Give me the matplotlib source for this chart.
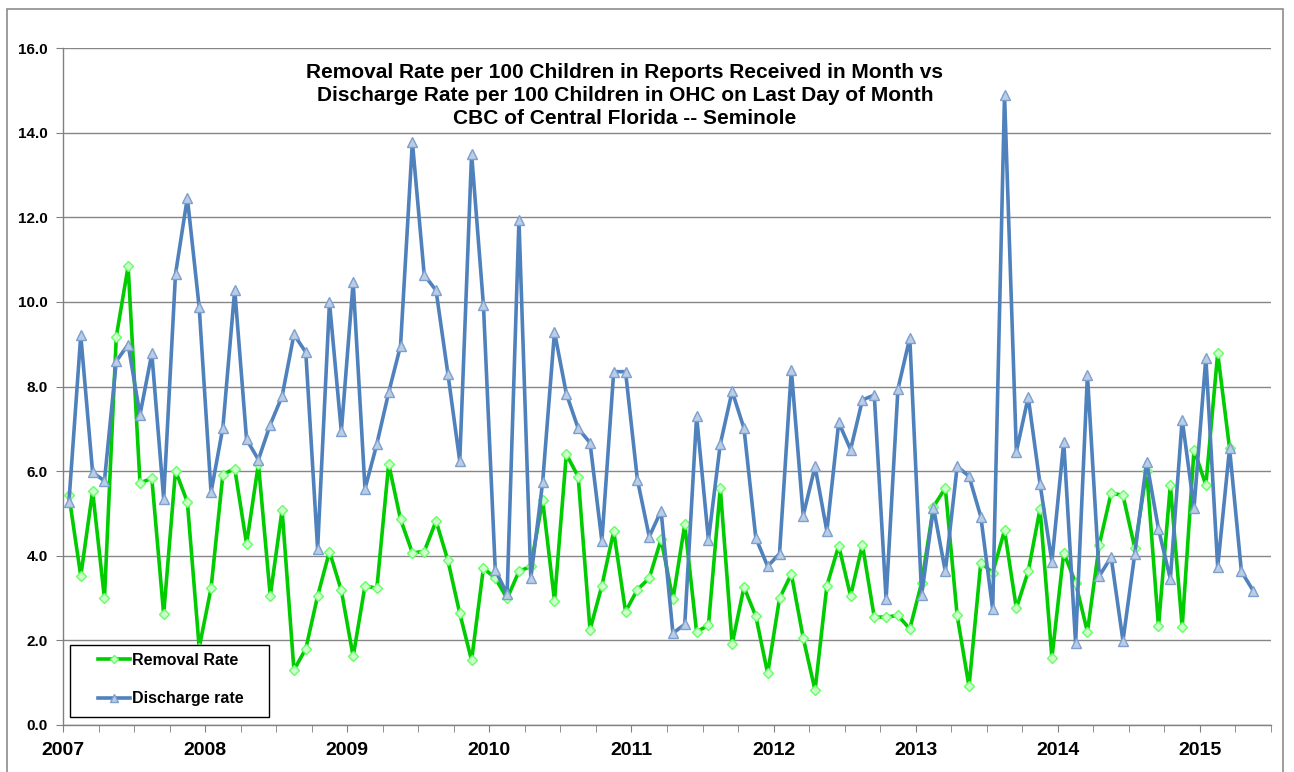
import numpy as np
import matplotlib
matplotlib.use('Agg')
import matplotlib.pyplot as plt
from matplotlib.patches import Rectangle

plt.rcParams['font.family'] = ['Liberation Sans', 'DejaVu Sans']
plt.rcParams['font.weight'] = 'bold'

# monthly values, starting Jan 2007
removal_rate = [
    5.43, 3.52, 5.53, 2.99, 9.18, 10.84, 5.72, 5.83, 2.62, 6.01, 5.27, 1.83,
    3.23, 5.92, 6.06, 4.28, 6.17, 3.05, 5.08, 1.30, 1.80, 3.05, 4.10, 3.18,
    1.62, 3.29, 3.23, 6.17, 4.86, 4.07, 4.10, 4.82, 3.89, 2.64, 1.53, 3.71,
    3.47, 2.99, 3.63, 3.75, 5.32, 2.94, 6.40, 5.87, 2.25, 3.29, 4.58, 2.68,
    3.20, 3.47, 4.39, 2.97, 4.74, 2.20, 2.36, 5.60, 1.91, 3.26, 2.57, 1.22,
    2.99, 3.57, 2.06, 0.82, 3.29, 4.24, 3.05, 4.26, 2.55, 2.55, 2.59, 2.27,
    3.36, 5.16, 5.60, 2.59, 0.91, 3.84, 3.60, 4.60, 2.76, 3.63, 5.11, 1.59,
    4.07, 3.36, 2.20, 4.26, 5.48, 5.43, 4.18, 6.01, 2.33, 5.67, 2.31, 6.51,
    5.67, 8.79, 6.54,
]
discharge_rate = [
    5.27, 9.21, 5.97, 5.77, 8.60, 8.99, 7.33, 8.78, 5.35, 10.66, 12.46, 9.87,
    5.50, 7.03, 10.29, 6.75, 6.27, 7.10, 7.77, 9.23, 8.81, 4.16, 9.99, 6.94,
    10.47, 5.58, 6.64, 7.86, 8.96, 13.78, 10.64, 10.27, 8.30, 6.24, 13.50, 9.92,
    3.66, 3.10, 11.93, 3.47, 5.74, 9.29, 7.83, 7.01, 6.67, 4.35, 8.35, 8.35,
    5.80, 4.45, 5.06, 2.17, 2.38, 7.30, 4.37, 6.64, 7.89, 7.01, 4.42, 3.75,
    4.05, 8.39, 4.95, 6.11, 4.58, 7.15, 6.51, 7.68, 7.80, 2.97, 7.94, 9.15,
    3.07, 5.14, 3.63, 6.11, 5.88, 4.92, 2.73, 14.89, 6.46, 7.75, 5.69, 3.86,
    6.69, 1.94, 8.28, 3.52, 3.97, 1.99, 4.05, 6.22, 4.63, 3.45, 7.22, 5.13,
    8.68, 3.73, 6.54, 3.63, 3.17,
]
years = [2007, 2008, 2009, 2010, 2011, 2012, 2013, 2014, 2015]
n_months = 102  # axis runs Jan 2007 .. Jun 2015

title = ("Removal Rate per 100 Children in Reports Received in Month vs\n"
         "Discharge Rate per 100 Children in OHC on Last Day of Month\n"
         "CBC of Central Florida -- Seminole")

W, H = 1294, 772
fig = plt.figure(figsize=(W / 100, H / 100), dpi=100)
ax = fig.add_axes([63 / W, 47 / H, 1208 / W, 677 / H])

# chart border
fig.patches.append(Rectangle((7 / W, -0.05), 1276 / W, 1.05 - 9 / H,
                             transform=fig.transFigure, fill=False,
                             edgecolor='#8c8c8c', linewidth=1.2))

x_rem = np.arange(len(removal_rate)) + 0.5
x_dis = np.arange(len(discharge_rate)) + 0.5

ax.plot(x_rem, removal_rate, color='#00cc00', lw=2.6, marker='D', ms=5,
        mfc='#ccffcc', mec='#66ff66', mew=1, label='Removal Rate', zorder=3)
ax.plot(x_dis, discharge_rate, color='#4f81bd', lw=2.6, marker='^', ms=7,
        mfc='#b9cde5', mec='#7f9fcf', mew=1, label='Discharge rate', zorder=4)

ax.set_xlim(0, n_months)
ax.set_ylim(0, 16)
ax.set_yticks(np.arange(0, 16.1, 2))
ax.set_yticklabels([f'{v:.1f}' for v in np.arange(0, 16.1, 2)],
                   fontsize=11, fontweight='bold')
ax.set_xticks(np.arange(0, n_months + 1, 3), minor=True)
ax.set_xticks([(y - 2007) * 12 for y in years])
ax.set_xticklabels([str(y) for y in years], fontsize=14, fontweight='bold')

ax.tick_params(axis='x', which='both', direction='out', length=5,
               color='#808080', pad=7)
ax.tick_params(axis='y', direction='out', length=5, color='#808080', pad=6)
ax.grid(axis='y', color='#868686', lw=1)
ax.set_axisbelow(True)
for side in ['top', 'right']:
    ax.spines[side].set_visible(False)
for side in ['left', 'bottom']:
    ax.spines[side].set_color('#808080')
    ax.spines[side].set_linewidth(1)

fig.text(625 / W, 1 - 63 / H, title, ha='center', va='top',
         fontsize=15, fontweight='bold', linespacing=1.27)

# legend box drawn separately so its padding can match
fig.patches.append(Rectangle((70 / W, 1 - 717 / H), 199 / W, 72 / H,
                             transform=fig.transFigure, fill=True,
                             facecolor='white', edgecolor='black',
                             linewidth=1, zorder=5))
leg = fig.legend(loc='upper left', bbox_to_anchor=(98 / W, 1 - 653 / H),
                 fontsize=11.5, frameon=False, borderpad=0,
                 labelspacing=1.45, handlelength=2.0, handletextpad=0.15,
                 borderaxespad=0, markerscale=0.8)
leg.set_zorder(6)
for t in leg.get_texts():
    t.set_fontweight('bold')

fig.savefig('out.png', dpi=100, facecolor='white')
